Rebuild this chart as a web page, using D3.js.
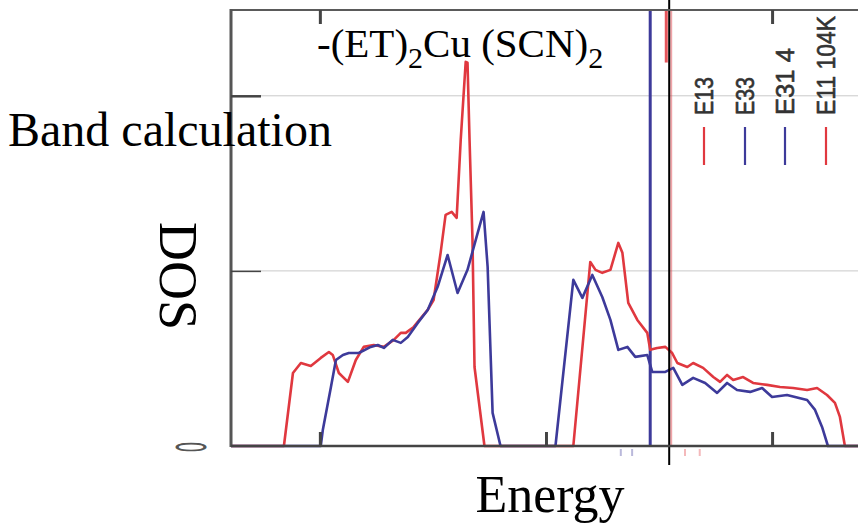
<!DOCTYPE html>
<html>
<head>
<meta charset="utf-8">
<script src="https://cdn.jsdelivr.net/npm/d3@7"></script>
<style>
  html, body { margin: 0; padding: 0; background: #fff; }
  svg { display: block; }
  .serif { font-family: "Liberation Serif", "DejaVu Serif", serif; fill: #000; }
</style>
</head>
<body>
<script>
// Density of states, two band calculations (energy in arbitrary units)
const redEnergy = [-0.393, -0.159, -0.119, -0.084, -0.040, 0.004, 0.040, 0.057, 0.084, 0.124, 0.159, 0.194, 0.238, 0.283, 0.327, 0.358, 0.380, 0.415, 0.477, 0.503, 0.534, 0.556, 0.583, 0.605, 0.623, 0.645, 0.653, 0.662, 0.675, 0.684, 0.728,
  1.121, 1.196, 1.219, 1.249, 1.285, 1.320, 1.338, 1.364, 1.404, 1.448, 1.461, 1.492, 1.528, 1.558, 1.581, 1.625, 1.651, 1.695, 1.740, 1.770, 1.801, 1.828, 1.872, 1.916, 1.978, 2.035, 2.093, 2.155, 2.199, 2.243, 2.278, 2.300, 2.322, 2.380];
const redDos = [0, 0, 0.417, 0.474, 0.457, 0.503, 0.537, 0.520, 0.417, 0.366, 0.491, 0.566, 0.577, 0.566, 0.606, 0.646, 0.646, 0.680, 0.777, 0.834, 1.103, 1.320, 1.337, 1.303, 1.749, 2.194, 2.189, 1.749, 1.177, 0.451, 0,
  0, 1.051, 1.006, 0.989, 1.006, 1.160, 1.103, 0.817, 0.720, 0.646, 0.549, 0.560, 0.566, 0.531, 0.474, 0.451, 0.474, 0.446, 0.394, 0.366, 0.406, 0.377, 0.394, 0.360, 0.349, 0.337, 0.331, 0.320, 0.331, 0.291, 0.246, 0.166, 0, 0];

const blueEnergy = [-0.393, 0.004, 0.013, 0.049, 0.071, 0.102, 0.128, 0.172, 0.225, 0.256, 0.283, 0.322, 0.358, 0.389, 0.433, 0.477, 0.521, 0.565, 0.609, 0.653, 0.698, 0.724, 0.742, 0.764, 0.799,
  1.042, 1.121, 1.161, 1.205, 1.249, 1.285, 1.320, 1.360, 1.395, 1.448, 1.470, 1.528, 1.563, 1.603, 1.651, 1.704, 1.757, 1.801, 1.845, 1.903, 1.956, 2.000, 2.066, 2.155, 2.190, 2.221, 2.247, 2.380];
const blueDos = [0, 0, 0.091, 0.337, 0.491, 0.520, 0.531, 0.531, 0.566, 0.577, 0.560, 0.606, 0.589, 0.623, 0.703, 0.777, 0.909, 1.091, 0.874, 1.006, 1.217, 1.337, 1.023, 0.189, 0,
  0, 0.949, 0.846, 0.977, 0.851, 0.720, 0.549, 0.566, 0.509, 0.520, 0.423, 0.423, 0.446, 0.349, 0.389, 0.360, 0.303, 0.360, 0.320, 0.309, 0.331, 0.280, 0.291, 0.263, 0.206, 0.109, 0, 0];

// Fermi levels of the two calculations and of the measurement
const fermiBlue = 1.461;
const fermiRed = 1.532;
const fermiLevel = 1.545;

const xTicks = [0, 1, 2];
const yGrid = [1, 2];
const legendLabels = ["E13", "E33", "E31 4", "E11 104K"];
const legendColors = ["#e0383f", "#3d3a9a", "#3d3a9a", "#e0383f"];

const RED = "#e0383f", BLUE = "#3d3a9a";

const W = 858, H = 523;
const svg = d3.select("body").append("svg").attr("width", W).attr("height", H);

const x = d3.scaleLinear().domain([-0.393, 2.380]).range([231, 858]);
const y = d3.scaleLinear().domain([0, 2.49]).range([446, 10]);

// horizontal grid
svg.append("g")
  .selectAll("line").data(yGrid).join("line")
  .attr("x1", x.range()[0]).attr("x2", W)
  .attr("y1", d => y(d)).attr("y2", d => y(d))
  .attr("stroke", "#c9c9c9").attr("stroke-width", 1);

// curves
const line = d3.line().x(d => x(d[0])).y(d => y(d[1]));
const redPts = d3.zip(redEnergy, redDos);
const bluePts = d3.zip(blueEnergy, blueDos);

// Fermi levels
svg.append("line")
  .attr("x1", x(fermiBlue)).attr("x2", x(fermiBlue))
  .attr("y1", y(2.49)).attr("y2", y(0))
  .attr("stroke", BLUE).attr("stroke-width", 3);
svg.append("line")
  .attr("x1", x(fermiRed)).attr("x2", x(fermiRed))
  .attr("y1", y(2.49)).attr("y2", y(2.19))
  .attr("stroke", RED).attr("stroke-width", 3).attr("opacity", 0.85);
svg.append("line")
  .attr("x1", x(fermiLevel) + 2).attr("x2", x(fermiLevel) + 2)
  .attr("y1", y(2.49)).attr("y2", y(0))
  .attr("stroke", RED).attr("stroke-width", 2).attr("opacity", 0.45);

svg.append("path").datum(redPts).attr("d", line)
  .attr("fill", "none").attr("stroke", RED).attr("stroke-width", 2.6)
  .attr("stroke-linejoin", "round");
svg.append("path").datum(bluePts).attr("d", line)
  .attr("fill", "none").attr("stroke", BLUE).attr("stroke-width", 2.6)
  .attr("stroke-linejoin", "round");

svg.append("line")
  .attr("x1", x(fermiLevel)).attr("x2", x(fermiLevel))
  .attr("y1", 0).attr("y2", 465)
  .attr("stroke", "#000").attr("stroke-width", 2);

// frame
svg.append("line").attr("x1", 231).attr("x2", W).attr("y1", 10).attr("y2", 10)
  .attr("stroke", "#5a5a5a").attr("stroke-width", 2);
svg.append("line").attr("x1", 231).attr("x2", 231).attr("y1", 9).attr("y2", 447)
  .attr("stroke", "#555").attr("stroke-width", 3);

// axes with inward ticks
const xAxis = d3.axisBottom(x).tickValues(xTicks).tickSize(-14).tickFormat("");
const gx = svg.append("g").attr("transform", "translate(0,446)").call(xAxis);
gx.select(".domain").attr("d", `M231,0H${W}`).attr("stroke", "#444").attr("stroke-width", 2.5);
gx.selectAll(".tick line").attr("stroke", "#444").attr("stroke-width", 3);

const xTop = d3.axisTop(x).tickValues([0, 2]).tickSize(-14).tickFormat("");
const gt = svg.append("g").attr("transform", "translate(0,10)").call(xTop);
gt.select(".domain").remove();
gt.selectAll(".tick line").attr("stroke", "#444").attr("stroke-width", 3);

const yAxis = d3.axisLeft(y).tickValues(yGrid).tickSize(-30).tickFormat("");
const gy = svg.append("g").attr("transform", "translate(231,0)").call(yAxis);
gy.select(".domain").remove();
gy.selectAll(".tick line").attr("stroke", "#444").attr("stroke-width", d => d === 2 ? 2.5 : 1.5);

// small marks under the axis near the Fermi levels
const underMarks = [[fermiBlue - 0.13, BLUE], [fermiBlue - 0.08, BLUE], [fermiLevel + 0.07, RED], [fermiLevel + 0.135, RED]];
svg.append("g").selectAll("line").data(underMarks).join("line")
  .attr("x1", d => x(d[0])).attr("x2", d => x(d[0]))
  .attr("y1", 449).attr("y2", 456)
  .attr("stroke", d => d[1]).attr("stroke-width", 2).attr("opacity", 0.35);

// zero label
svg.append("text")
  .attr("transform", `translate(190,${y(0) + 1}) rotate(90) scale(0.42,1)`)
  .attr("text-anchor", "middle").attr("dominant-baseline", "central")
  .attr("font-family", "DejaVu Sans, sans-serif").attr("font-size", 40)
  .attr("fill", "#555").text("0");

// legend
const legX = [704, 745, 785, 826];
const legLen = [38, 38, 67, 99];
legendLabels.forEach((lab, i) => {
  svg.append("line")
    .attr("x1", legX[i]).attr("x2", legX[i]).attr("y1", 127).attr("y2", 165)
    .attr("stroke", legendColors[i]).attr("stroke-width", 2.2);
  svg.append("text")
    .attr("transform", `translate(${legX[i] + 9},115) rotate(-90)`)
    .attr("font-family", "Liberation Sans, Arial, sans-serif")
    .attr("font-size", 26).attr("fill", "#333")
    .attr("stroke", "#333").attr("stroke-width", 0.6)
    .attr("textLength", legLen[i]).attr("lengthAdjust", "spacingAndGlyphs")
    .text(lab);
});

// titles
const title = svg.append("text").attr("class", "serif")
  .attr("x", 317).attr("y", 57).attr("font-size", 41);
title.append("tspan").text("-(ET)");
title.append("tspan").attr("font-size", 30).attr("dy", 11).text("2");
title.append("tspan").attr("dy", -11).text("Cu (SCN)");
title.append("tspan").attr("font-size", 30).attr("dy", 11).text("2");

svg.append("text").attr("class", "serif")
  .attr("x", 8).attr("y", 146).attr("font-size", 48).text("Band calculation");

svg.append("text").attr("class", "serif")
  .attr("x", 550).attr("y", 512).attr("text-anchor", "middle")
  .attr("font-size", 52).text("Energy");

svg.append("text").attr("class", "serif")
  .attr("transform", "translate(160,276) rotate(90)")
  .attr("text-anchor", "middle")
  .attr("font-size", 54).text("DOS");
</script>
</body>
</html>
